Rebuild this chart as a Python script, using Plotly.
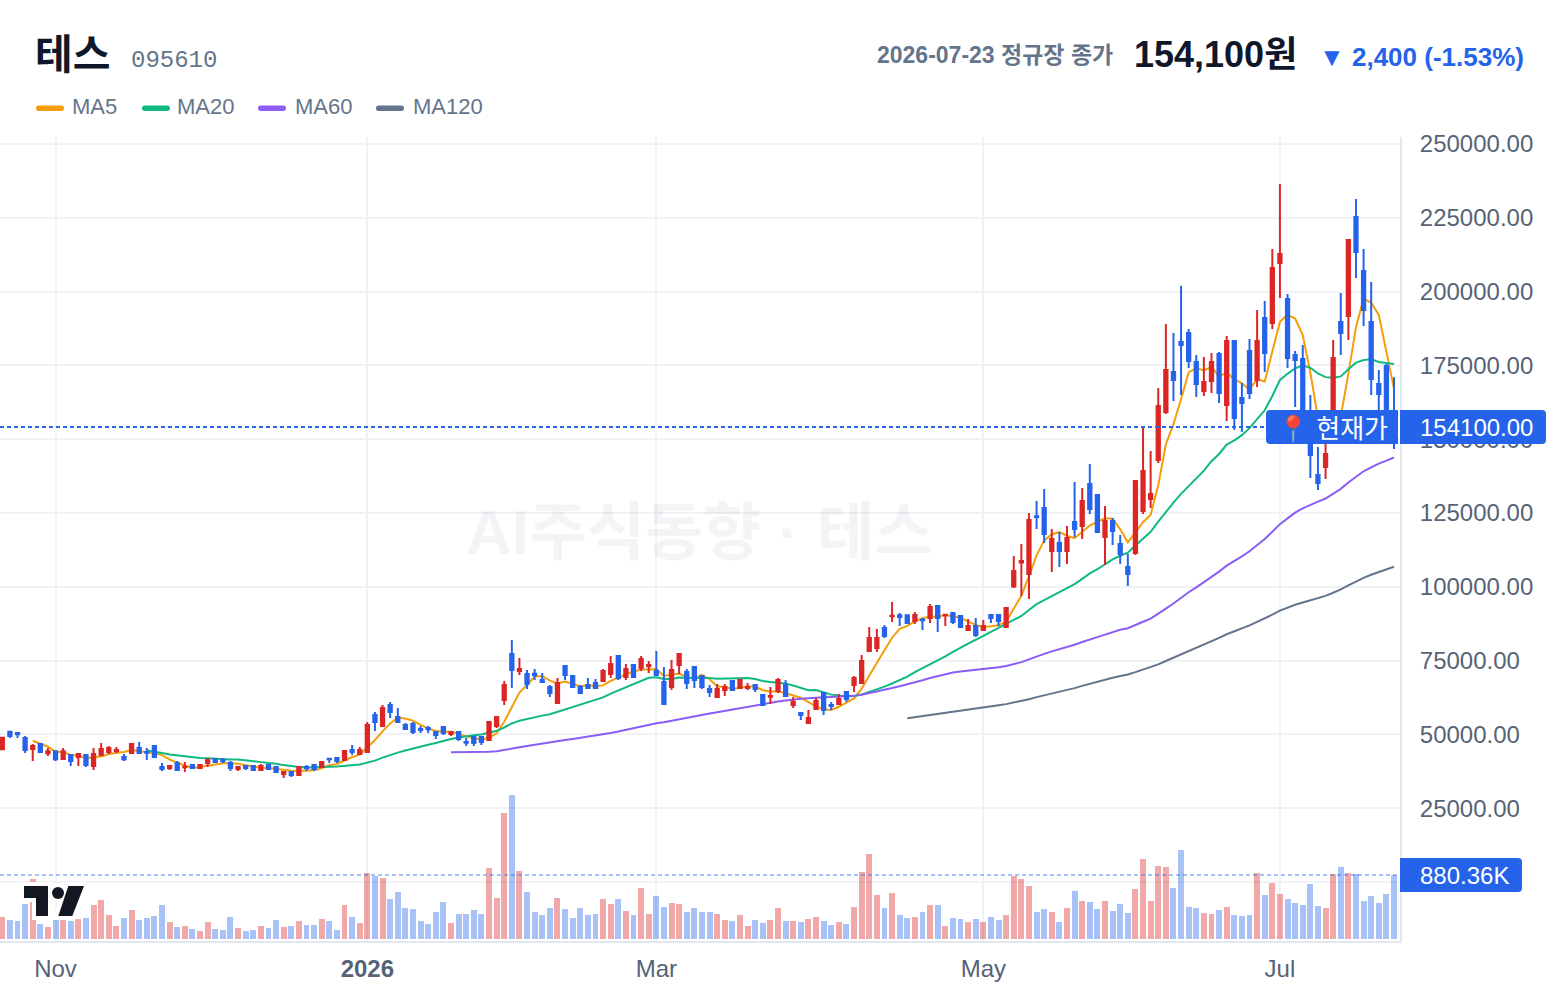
import plotly.graph_objects as go
import pandas as pd

# Daily sessions of 테스 (095610), KRW
opens = [44950,50930,50480,48790,45060, 46760,43590,44270,41670,43030, 42350,43030,39300,43030,44050, 44380,42350,43710,45400,44050,
         46080,38960,38630,40320,38850, 39640,38630,40320,41670,41340, 40320,38290,39300,39300,37950, 39640,38960,36590,37270,36250,
         38960,39640,38960,41790,42010, 41340,44720,43370,44050,56580, 52850,59960,55900,53190,53530, 51840,52170,50820,52510,50140,
         50820,47430,49130,49130,48110, 52850,61660,77240,71480,70470, 70580,68430,66060,60640,73175, 69790,66060,66740,67420,68090,
         70470,76560,69450,73510,72500, 73060,71480,67750,66060,73510, 71140,72840,69790,65390,62680, 65040,68090,65720,65720,66740,
         63350,62790,64710,66740,59970, 57260,53870,58610,64030,59970, 60300,64370,66740,67420,78260, 79270,86050,90000,90340,90340,
         88420,88870,89430,93500,90340, 91130,90110,85370,86730,85370, 90450,90450,86390,100060,108190, 104350,123880,126700,112140,114850,
         112140,121960,120610,134830,131110, 116880,122300,114510,106720,111460, 125690,129750,142960,159220,172770, 182930,185980,176150,166330,169730,
         178870,161600,183270,163970,179890, 170060,191060,189370,209690,197500, 178530,177170,155390,137890,140600, 155390,189710,191740,225270,206980,
         189710,168710,174810,156500]
highs = [49125,51270,50500,49460,46760, 46760,45400,44270,45400,43370, 43370,43030,45400,47090,46080, 45740,43370,47090,47430,45400,
         46420,40320,39640,41000,40660, 39980,39980,42010,42010,42010, 41000,39300,39640,39300,39980, 39640,38960,37610,37270,38960,
         39640,39640,41000,42010,42010, 44720,46420,45740,54210,57590, 59960,60980,58950,53870,54210, 52850,52850,51160,52510,51160,
         50820,48790,49130,49460,54550, 56240,68090,81980,75880,71820, 72160,70800,66740,69110,73175, 70130,66740,69110,68770,72160,
         76560,76560,73850,73510,76560, 74870,78260,72840,75210,77580, 72160,72840,69790,66740,67080, 67080,68090,68770,67420,66740,
         63690,66060,69110,68430,62680, 57590,58270,62340,64030,60980, 63690,64370,69790,76900,86390, 85710,87060,94860,91130,90450,
         91470,89430,94180,93500,90790, 91130,90110,89090,89430,88760, 90450,90790,93160,110450,114510, 125010,129080,133140,119590,118580,
         120610,135510,133480,141610,131110, 127380,123320,117560,111130,135850, 154140,146010,167350,189030,185980, 202000,187330,178530,177850,179210,
         179550,184970,183270,169050,183950, 193770,196820,214440,236450,199190, 179890,181920,165000,147370,149740, 183620,199530,217480,231370,214440,
         203260,173450,175500,171000]
lows = [44720,48790,48790,43710,41000, 43710,42690,41000,41670,39300, 39300,38970,37950,42690,43370, 43710,41000,43710,43370,41340,
        42010,37610,37950,37610,37270, 38290,38290,38960,40320,40320, 37610,37610,37950,37950,37950, 38290,36930,35240,35580,36250,
        37610,37610,38960,40320,40320, 41000,43030,43370,44050,51160, 52510,55560,53870,51500,50140, 50480,50480,48450,49800,49460,
        47770,46080,46080,46420,48110, 52170,59960,65720,70130,65390, 68430,67420,62675,60300,68430, 66060,63690,65390,65390,67750,
        69110,68430,68430,69450,71480, 70800,69790,60300,65040,70470, 65390,65720,65390,62680,62340, 63020,64700,65720,65040,64370,
        59970,60300,64030,63020,58950, 54890,53530,58610,56580,58270, 60300,60980,64370,67080,77920, 77920,82660,88080,86730,87400,
        87400,85370,87740,84690,86730, 87400,86050,85370,83000,85030, 87740,86730,86390,99610,96900, 95880,119590,114850,105030,106720,
        107740,116880,116210,124670,118240, 107400,114170,107740,100290,110790, 124670,126700,141950,158540,162950, 164980,174120,164300,164640,165660,
        162280,156180,153130,152450,163630, 167690,172770,187340,197840,174130, 160920,149180,136870,132810,136530, 153130,178530,183610,204610,188350,
        165000,156500,149740,146670]
closes = [48900,49460,50030,44720,46080, 44050,44270,41560,44270,41000, 43370,39640,43370,45060,45400, 44720,41560,46760,43710,43820,
          42350,38290,39300,37950,39080, 38630,39640,41340,40660,40880, 38630,38960,38630,37950,39300, 38290,37270,37270,36250,38960,
          38500,38290,40660,41560,41000, 44380,44050,44720,53190,54210, 58950,57590,54210,51840,50820, 51500,51720,49800,50480,50820,
          48450,47200,47100,47430,54210, 55900,66740,71820,72160,67080, 70130,67750,64030,67420,70130, 66060,64030,65720,65720,71480,
          73850,69110,72160,69450,75540, 73510,70130,60300,71820,77240, 67420,68430,66060,64370,65390, 66060,65040,68430,66060,65390,
          59970,63020,68430,63020,60980, 56580,55560,61320,58270,59630, 62000,62000,69110,74870,82660, 82660,83340,90220,89770,87740,
          90450,88640,93160,89430,90560, 88080,86390,86730,83680,86730, 89430,88420,92820,105370,108750, 122640,123660,117900,116210,112140,
          116540,119590,129080,126370,118580, 122300,118920,111130,104350,135850, 139240,131450,161250,173450,170060, 181910,176490,168700,169380,176160,
          165660,183270,157190,162280,165660, 183270,179210,208000,212740,177520, 176840,151440,144660,135180,145000, 177520,185980,217480,213420,193770,
          170400,165320,152000,154100]
volumes_k = [303,261,248,481,825, 206,165,261,261,248, 275,289,468,536,330, 179,289,399,261,289,
             316,468,234,165,179, 138,110,234,138,124, 303,151,110,124,179, 151,261,165,179,248,
             193,193,275,248,124, 468,303,220,908,867, 839,550,646,426,413, 248,206,371,509,220,
             344,344,399,344,977, 564,1733,1981,935,646, 371,330,426,564,413, 289,426,330,344,550,
             481,550,385,330,702, 344,591,440,495,481, 371,426,371,371,344, 261,248,330,179,261,
             220,261,426,248,248, 234,275,303,248,193, 234,206,440,922,1169, 605,426,633,330,289,
             303,371,468,468,179, 289,275,234,275,234, 303,261,330,867,825, 729,371,413,371,234,
             426,660,523,509,413, 523,385,481,358,688, 1100,523,1004,990,702, 1224,440,426,358,344,
             399,440,330,316,330, 908,605,770,619,550, 495,468,757,454,426, 894,990,908,894,523,
             591,495,619,880.36]

month_sessions = [7, 48, 86, 129, 168]
month_labels = ["Nov", "<b>2026</b>", "Mar", "May", "Jul"]
price_levels = [0, 25000, 50000, 75000, 100000, 125000, 150000, 175000, 200000, 225000, 250000]
ma_windows = [5, 20, 60, 120]
ma_colors = ["#f59e0b", "#10b981", "#8b5cf6", "#64748b"]

UP = "#dc2626"
DOWN = "#2563eb"
SLATE = "#64748b"
AXIS_TEXT = "#566377"
GRID = "#eff2f6"
EDGE = "#e2e8f0"
FAMILY = "Liberation Sans, Noto Sans CJK KR, sans-serif"

FIG_W, FIG_H = 1560, 996
PLOT_L, PLOT_R, PLOT_T, PLOT_B = 0, 1400, 137, 941


def fx(px):
    return px / FIG_W


def fy(py):
    return 1 - py / FIG_H


def rounded_path(x0, y0, x1, y1, left=0.0, right=0.0):
    """Closed rectangle path in page pixels, with optional rounding per side."""
    X0, X1, Y0, Y1 = fx(x0), fx(x1), fy(y0), fy(y1)
    p = [f"M {fx(x0 + left)} {Y0}", f"L {fx(x1 - right)} {Y0}"]
    if right:
        p += [f"Q {X1} {Y0} {X1} {fy(y0 + right)}", f"L {X1} {fy(y1 - right)}",
              f"Q {X1} {Y1} {fx(x1 - right)} {Y1}"]
    else:
        p += [f"L {X1} {Y1}"]
    p += [f"L {fx(x0 + left)} {Y1}"]
    if left:
        p += [f"Q {X0} {Y1} {X0} {fy(y1 - left)}", f"L {X0} {fy(y0 + left)}",
              f"Q {X0} {Y0} {fx(x0 + left)} {Y0}"]
    else:
        p += [f"L {X0} {Y0}"]
    return " ".join(p) + " Z"


def polygon_path(points):
    return "M " + " L ".join(f"{fx(x)} {fy(y)}" for x, y in points) + " Z"


sessions = list(range(len(closes)))
close_series = pd.Series(closes, dtype=float)
vol_colors = ["rgba(220,38,38,0.4)" if c >= o else "rgba(37,99,235,0.4)" for o, c in zip(opens, closes)]

fig = go.Figure()

# Volume sits on its own axis at the foot of the pane
fig.add_trace(go.Bar(x=sessions, y=volumes_k, marker=dict(color=vol_colors, line=dict(width=0)),
                     width=0.78, yaxis="y", showlegend=False, hoverinfo="skip"))

for window, color in zip(ma_windows, ma_colors):
    ma = close_series.rolling(window).mean()
    fig.add_trace(go.Scatter(x=sessions, y=ma, mode="lines", name=f"MA{window}",
                             line=dict(color=color, width=2), yaxis="y2",
                             showlegend=False, hoverinfo="skip"))

fig.add_trace(go.Candlestick(x=sessions, open=opens, high=highs, low=lows, close=closes, yaxis="y3",
                             increasing=dict(line=dict(color=UP, width=2), fillcolor=UP),
                             decreasing=dict(line=dict(color=DOWN, width=2), fillcolor=DOWN),
                             whiskerwidth=0, showlegend=False, hoverinfo="skip"))

# Axis ranges tie the price and volume scales to the pane height
price_per_px = 25000 / 73.8
price_range = [250000 - (PLOT_B - 144) * price_per_px, 250000 + (144 - PLOT_T) * price_per_px]
vol_per_px = volumes_k[-1] / 64
vol_range = [-(PLOT_B - 939) * vol_per_px, (939 - PLOT_T) * vol_per_px]
x_per_px = 183 / (1394 - 2.3)
x_range = [-2.3 * x_per_px, (PLOT_R - 2.3) * x_per_px]

shapes = [
    dict(type="line", xref="paper", yref="y2", x0=0, x1=fx(PLOT_R), y0=closes[-1], y1=closes[-1],
         line=dict(color=DOWN, width=2, dash="4px,3px")),
    dict(type="line", xref="paper", yref="y", x0=0, x1=fx(PLOT_R), y0=volumes_k[-1], y1=volumes_k[-1],
         line=dict(color="rgba(37,99,235,0.4)", width=2, dash="4px,3px")),
]

# Corner logo: a white halo first, then the dark glyph
logo_seven = [(24, 886), (48, 886), (48, 916), (36, 916), (36, 898), (24, 898)]
logo_slash = [(68.3, 886), (84, 886), (72.3, 916), (58.3, 916)]
logo_dot = dict(type="circle", xref="paper", yref="paper", x0=fx(52), x1=fx(64), y0=fy(899), y1=fy(887))
for line_style, fill in ((dict(color="white", width=8), "white"), (dict(width=0), "#131722")):
    shapes.append(dict(type="path", xref="paper", yref="paper", path=polygon_path(logo_seven), fillcolor=fill, line=line_style))
    shapes.append(dict(type="path", xref="paper", yref="paper", path=polygon_path(logo_slash), fillcolor=fill, line=line_style))
    shapes.append(dict(logo_dot, fillcolor=fill, line=line_style))

# Price tags on the right-hand scale
for x0, y0, x1, y1, left, right in ((1266, 410, 1398, 444, 4, 0), (1400, 410, 1546, 444, 0, 4), (1400, 858, 1522, 892, 0, 4)):
    shapes.append(dict(type="path", xref="paper", yref="paper", path=rounded_path(x0, y0, x1, y1, left, right),
                       fillcolor=DOWN, line=dict(width=0)))

# Legend swatches
for (x0, x1), color in zip(((36, 64), (142, 170), (258, 286), (376, 404)), ma_colors):
    shapes.append(dict(type="path", xref="paper", yref="paper", path=rounded_path(x0, 105.5, x1, 111, 2.7, 2.7),
                       fillcolor=color, line=dict(width=0)))


def label(text, x, y, size, color, anchor="left", bold=False, family=FAMILY):
    return dict(text=f"<b>{text}</b>" if bold else text, xref="paper", yref="paper", x=fx(x), y=fy(y),
                xanchor=anchor, yanchor="middle", showarrow=False,
                font=dict(size=size, color=color, family=family))


annotations = [
    label("AI주식동향 · 테스", 699, 532, 63, "rgba(100,116,139,0.08)", anchor="center", bold=True),
    label("테스", 33, 55, 41, "#0f172a", bold=True),
    label("095610", 129, 61, 24, SLATE, family="Liberation Mono, monospace"),
    label("2026-07-23 정규장 종가", 1115, 55, 23, SLATE, anchor="right", bold=True),
    label("154,100원", 1299, 54, 36, "#0f172a", anchor="right", bold=True),
    label("▼ 2,400 (-1.53%)", 1526, 57, 26, DOWN, anchor="right", bold=True),
    label("MA5", 70, 106.6, 22, SLATE),
    label("MA20", 175, 106.6, 22, SLATE),
    label("MA60", 293, 106.6, 22, SLATE),
    label("MA120", 411, 106.6, 22, SLATE),
    label("📍 현재가", 1275, 429, 26, "#ffffff"),
    label(f"{closes[-1]:.2f}", 1418, 427, 24, "#ffffff"),
    label(f"{volumes_k[-1]:.2f}K", 1418, 875, 24, "#ffffff"),
]

y_domain = [fy(PLOT_B), fy(PLOT_T)]
fig.update_layout(
    width=FIG_W, height=FIG_H, margin=dict(l=0, r=0, t=0, b=0, autoexpand=False),
    paper_bgcolor="white", plot_bgcolor="white", bargap=0, boxgap=0.38, showlegend=False,
    font=dict(family=FAMILY, color=AXIS_TEXT, size=24),
    shapes=shapes, annotations=annotations,
    xaxis=dict(domain=[0, fx(PLOT_R)], range=x_range, tickmode="array", tickvals=month_sessions, ticktext=month_labels,
               showgrid=True, gridcolor=GRID, gridwidth=2, zeroline=False, showline=True, linecolor=EDGE, linewidth=2,
               ticks="", ticklabelstandoff=5, rangeslider=dict(visible=False), tickfont=dict(size=24, color=AXIS_TEXT)),
    yaxis=dict(domain=y_domain, range=vol_range, visible=False, showgrid=False, zeroline=False),
    yaxis2=dict(domain=y_domain, range=price_range, overlaying="y", side="right", anchor="x",
                tickmode="array", tickvals=price_levels,
                ticktext=[""] + [f"{v:.2f}" for v in price_levels[1:]],
                showgrid=True, gridcolor=GRID, gridwidth=2, zeroline=False, showline=True, linecolor=EDGE, linewidth=2,
                ticks="", ticklabelstandoff=13, tickfont=dict(size=24, color=AXIS_TEXT)),
    yaxis3=dict(domain=y_domain, range=price_range, overlaying="y", side="right", anchor="x", visible=False,
                showgrid=False, zeroline=False),
)

fig.write_html("out.html")
